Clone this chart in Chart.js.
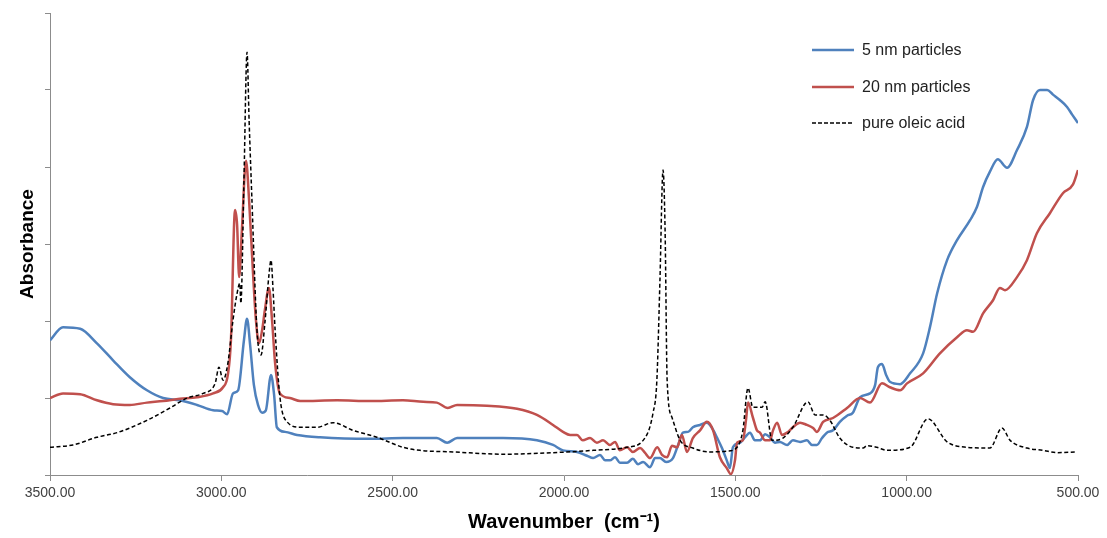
<!DOCTYPE html>
<html>
<head>
<meta charset="utf-8">
<script src="https://cdn.jsdelivr.net/npm/chart.js@4.4.1/dist/chart.umd.min.js"></script>
<style>
    body { margin: 0; background: #fff; }
    #wrap { position: relative; width: 1107px; height: 538px; }
    #legenda { position: absolute; left: 812px; top: 32px; font-family: "Liberation Sans", Arial, sans-serif; font-size: 16px; color: #222; }
    .item { display: flex; align-items: center; height: 36.5px; }
    .item svg { margin-right: 8px; }
</style>
</head>
<body>
<div id="wrap">
    <canvas id="grafico" width="1107" height="538"></canvas>
    <div id="legenda"></div>
</div>
<script>
// [wavenumber, absorbance]
const espectro5nm = [
    [3500,1.75],[3462,1.92],[3412,1.90],[3363,1.71],[3316,1.49],[3267,1.27],[3217,1.10],[3170,1.00],
    [3121,0.97],[3071,0.91],[3024,0.84],[2998,0.83],[2983,0.79],[2966,1.06],[2951,1.10],[2934,1.75],
    [2925,2.03],[2916,1.69],[2905,1.17],[2893,0.91],[2881,0.81],[2870,0.84],[2855,1.30],[2846,1.04],
    [2838,0.62],[2814,0.56],[2779,0.52],[2712,0.49],[2566,0.47],[2470,0.48],[2371,0.48],[2341,0.42],
    [2312,0.48],[2178,0.48],[2079,0.45],[2032,0.39],[2003,0.32],[1962,0.30],[1933,0.25],[1915,0.22],
    [1895,0.26],[1880,0.19],[1866,0.19],[1851,0.23],[1837,0.16],[1816,0.16],[1799,0.21],[1784,0.14],
    [1769,0.17],[1749,0.10],[1734,0.22],[1720,0.22],[1702,0.17],[1682,0.22],[1667,0.39],[1653,0.55],
    [1638,0.56],[1624,0.62],[1603,0.65],[1583,0.68],[1568,0.61],[1554,0.49],[1539,0.35],[1525,0.19],
    [1516,0.09],[1507,0.36],[1486,0.42],[1472,0.49],[1457,0.55],[1443,0.45],[1428,0.45],[1413,0.53],
    [1399,0.49],[1384,0.42],[1370,0.43],[1349,0.39],[1332,0.45],[1311,0.43],[1291,0.45],[1276,0.39],
    [1262,0.39],[1247,0.48],[1233,0.55],[1215,0.58],[1195,0.69],[1174,0.77],[1157,0.81],[1136,1.01],
    [1107,1.06],[1092,1.17],[1084,1.40],[1072,1.44],[1060,1.30],[1049,1.21],[1019,1.18],[990,1.32],
    [952,1.58],[932,1.92],[911,2.36],[882,2.79],[853,3.05],[815,3.31],[795,3.48],[777,3.74],
    [757,3.94],[734,4.10],[707,3.99],[678,4.22],[649,4.52],[631,4.87],[611,5.00],[590,5.00],
    [573,4.94],[553,4.87],[532,4.78],[517,4.68],[500,4.57]
];

const espectro20nm = [
    [3500,1.00],[3462,1.06],[3412,1.05],[3363,0.97],[3316,0.92],[3267,0.91],[3217,0.94],[3170,0.96],
    [3121,0.99],[3071,1.01],[3024,1.06],[2995,1.14],[2981,1.30],[2972,1.75],[2960,3.44],[2954,3.25],
    [2948,2.57],[2940,3.18],[2928,4.08],[2919,3.57],[2908,2.66],[2899,2.01],[2890,1.71],[2881,1.88],
    [2873,2.14],[2861,2.43],[2852,2.01],[2843,1.45],[2829,1.06],[2800,1.00],[2770,0.96],[2662,0.97],
    [2566,0.96],[2470,0.97],[2411,0.95],[2371,0.94],[2339,0.87],[2312,0.91],[2225,0.90],[2137,0.86],
    [2079,0.78],[2032,0.65],[2003,0.56],[1982,0.52],[1962,0.52],[1945,0.45],[1924,0.48],[1904,0.42],
    [1886,0.45],[1866,0.39],[1851,0.43],[1837,0.32],[1816,0.36],[1799,0.30],[1778,0.35],[1764,0.29],
    [1749,0.22],[1728,0.36],[1714,0.26],[1699,0.23],[1685,0.38],[1670,0.36],[1656,0.52],[1641,0.30],
    [1624,0.48],[1603,0.58],[1583,0.69],[1565,0.58],[1545,0.23],[1525,0.09],[1513,0.01],[1501,0.19],
    [1495,0.42],[1478,0.45],[1469,0.71],[1463,0.94],[1449,0.75],[1437,0.58],[1428,0.55],[1413,0.45],
    [1399,0.45],[1390,0.58],[1378,0.68],[1364,0.52],[1349,0.55],[1332,0.62],[1311,0.68],[1291,0.65],
    [1273,0.61],[1262,0.56],[1244,0.69],[1215,0.74],[1174,0.87],[1136,1.00],[1107,0.94],[1072,1.19],
    [1049,1.14],[1019,1.10],[999,1.19],[952,1.32],[903,1.58],[853,1.79],[824,1.88],[806,1.86],
    [777,2.10],[748,2.27],[728,2.43],[713,2.40],[678,2.57],[649,2.79],[620,3.14],[582,3.40],
    [544,3.66],[515,3.77],[500,3.96]
];

const espectroOleico = [
    [3500,0.36],[3433,0.39],[3363,0.49],[3304,0.55],[3217,0.71],[3150,0.87],[3100,1.00],[3053,1.06],
    [3018,1.19],[3007,1.40],[2995,1.23],[2981,1.45],[2966,2.01],[2954,2.36],[2946,2.49],[2943,2.23],
    [2934,3.83],[2925,5.49],[2919,4.61],[2911,3.61],[2896,1.88],[2884,1.56],[2873,1.97],[2861,2.60],
    [2855,2.79],[2849,2.40],[2843,1.88],[2829,1.01],[2808,0.69],[2770,0.62],[2721,0.62],[2674,0.68],
    [2616,0.58],[2546,0.49],[2470,0.36],[2420,0.32],[2324,0.30],[2178,0.27],[2032,0.29],[1915,0.32],
    [1816,0.36],[1769,0.45],[1740,0.81],[1729,1.23],[1720,2.53],[1711,3.96],[1705,3.18],[1699,1.23],
    [1685,0.75],[1661,0.45],[1624,0.35],[1574,0.30],[1524,0.31],[1495,0.36],[1478,0.58],[1463,1.13],
    [1449,0.88],[1422,0.88],[1413,0.95],[1393,0.45],[1361,0.48],[1332,0.62],[1288,0.95],[1267,0.78],
    [1244,0.78],[1224,0.71],[1195,0.48],[1157,0.36],[1127,0.35],[1116,0.38],[1087,0.36],[1057,0.32],
    [990,0.36],[938,0.73],[882,0.43],[824,0.36],[757,0.35],[722,0.61],[698,0.45],[649,0.35],
    [602,0.32],[561,0.29],[503,0.30]
];

const nomes = ["5 nm particles", "20 nm particles", "pure oleic acid"];
const cores = ["#4f81bd", "#c0504d", "#000000"];
const ticksX = [3500, 3000, 2500, 2000, 1500, 1000, 500];

const cinza = "#8c8c8c";
const fonte = "'Liberation Sans', Arial, sans-serif";

function serie(pontos, i, largura, tracejado, ordem) {
    return {
        label: nomes[i],
        data: pontos.map(p => ({x: p[0], y: p[1]})),
        borderColor: cores[i],
        borderWidth: largura,
        borderDash: tracejado,
        pointRadius: 0,
        cubicInterpolationMode: "monotone",
        order: ordem
    };
}

const ctx = document.getElementById("grafico").getContext("2d");

new Chart(ctx, {
    type: "line",
    data: {
        datasets: [
            serie(espectro5nm, 0, 2.5, [], 2),
            serie(espectro20nm, 1, 2.5, [], 1),
            serie(espectroOleico, 2, 1.5, [4, 2.5], 0)
        ]
    },
    options: {
        responsive: false,
        animation: false,
        layout: { padding: { top: 13, right: 29, left: 0, bottom: 0 } },
        plugins: { legend: { display: false }, tooltip: { enabled: false } },
        scales: {
            x: {
                type: "linear",
                reverse: true,
                min: 500,
                max: 3500,
                afterBuildTicks: scale => { scale.ticks = ticksX.map(v => ({value: v})); },
                afterFit: scale => { scale.height = 63; },
                ticks: {
                    autoSkip: false,
                    maxRotation: 0,
                    padding: 4,
                    color: "#404040",
                    font: { family: fonte, size: 14 },
                    callback: v => v.toFixed(2)
                },
                grid: { drawOnChartArea: false, drawTicks: true, tickLength: 6, color: cinza },
                border: { color: cinza },
                title: {
                    display: true,
                    text: "Wavenumber  (cm\u207B\u00B9)",
                    color: "#000",
                    font: { family: fonte, size: 20, weight: "bold" },
                    padding: { top: 0, bottom: 4 }
                }
            },
            y: {
                min: 0,
                max: 6,
                ticks: { stepSize: 1, display: false },
                afterFit: scale => { scale.width = 50; },
                grid: { drawOnChartArea: false, drawTicks: true, tickLength: 5, color: cinza },
                border: { color: cinza },
                title: {
                    display: true,
                    text: "Absorbance",
                    color: "#000",
                    font: { family: fonte, size: 19, weight: "bold" },
                    padding: { top: 16, bottom: 0 }
                }
            }
        }
    }
});

//legenda em HTML, montada a partir dos mesmos nomes e cores
const legenda = document.getElementById("legenda");
for (let i = 0; i < nomes.length; i++) {
    const div = document.createElement("div");
    div.className = "item";
    const tracejado = i === 2 ? 'stroke-dasharray="4 2"' : "";
    const largura = i === 2 ? 1.5 : 2.5;
    div.innerHTML = `
        <svg width="42" height="6"><line x1="0" y1="3" x2="42" y2="3" stroke="${cores[i]}" stroke-width="${largura}" ${tracejado}/></svg>
        <span>${nomes[i]}</span>
    `;
    legenda.appendChild(div);
}
</script>
</body>
</html>
